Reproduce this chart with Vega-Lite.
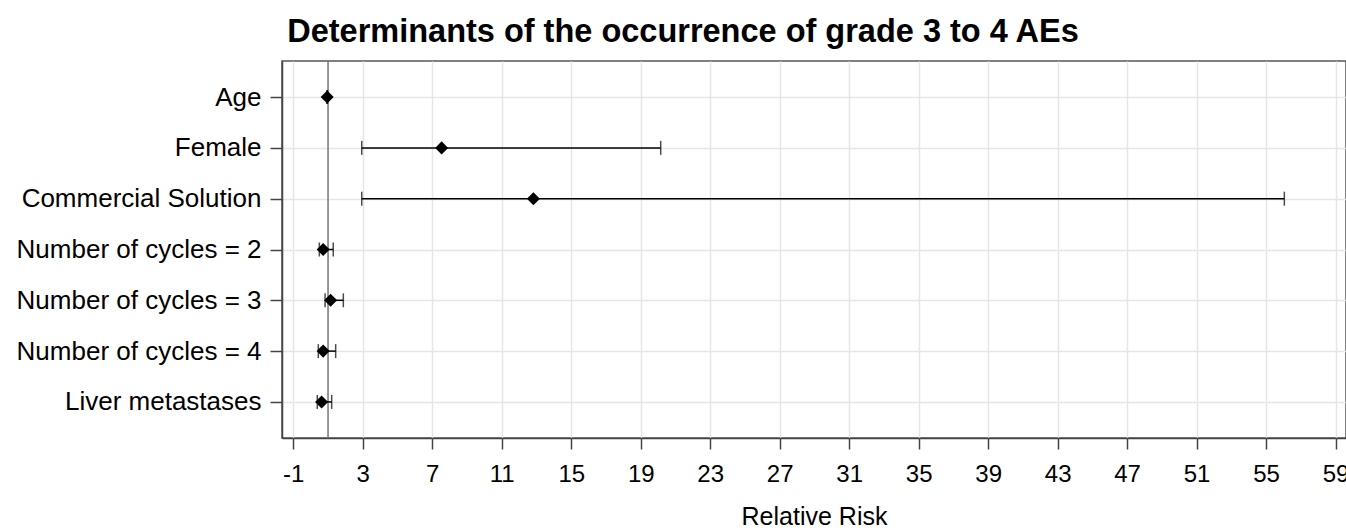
{
  "$schema": "https://vega.github.io/schema/vega-lite/v6.json",
  "autosize": {"type": "none"},
  "padding": {"left": 282, "top": 61, "right": 0, "bottom": 94},
  "width": 1064,
  "height": 377,
  "background": "white",
  "title": {
    "text": "Determinants of the occurrence of grade 3 to 4 AEs",
    "font": "Liberation Sans",
    "fontSize": 32.5,
    "fontWeight": "bold",
    "color": "black",
    "anchor": "middle",
    "dx": -131,
    "dy": 31,
    "baseline": "alphabetic",
    "offset": 17
  },
  "config": {
    "font": "Liberation Sans",
    "view": {"stroke": "#555", "strokeWidth": 1.5}
  },
  "data": {
    "values": [
      {"variable": "Age", "rr": 0.95, "lower": 0.93, "upper": 0.97},
      {"variable": "Female", "rr": 7.54, "lower": 2.94, "upper": 20.15},
      {"variable": "Commercial Solution", "rr": 12.82, "lower": 2.94, "upper": 56.05},
      {"variable": "Number of cycles = 2", "rr": 0.72, "lower": 0.5, "upper": 1.3},
      {"variable": "Number of cycles = 3", "rr": 1.15, "lower": 0.83, "upper": 1.88},
      {"variable": "Number of cycles = 4", "rr": 0.72, "lower": 0.44, "upper": 1.44},
      {"variable": "Liver metastases", "rr": 0.63, "lower": 0.38, "upper": 1.21}
    ]
  },
  "layer": [
    {
      "data": {"values": [{"ref": 1}]},
      "mark": {"type": "rule", "color": "#777", "strokeWidth": 1.5},
      "encoding": {
        "x": {"field": "ref", "type": "quantitative"}
      }
    },
    {
      "mark": {"type": "rule", "color": "black", "strokeWidth": 1.5},
      "encoding": {
        "y": {"field": "variable", "type": "nominal", "sort": null},
        "x": {"field": "lower", "type": "quantitative"},
        "x2": {"field": "upper"}
      }
    },
    {
      "mark": {"type": "tick", "color": "black", "size": 14, "thickness": 1.5},
      "encoding": {
        "y": {"field": "variable", "type": "nominal", "sort": null},
        "x": {"field": "lower", "type": "quantitative"}
      }
    },
    {
      "mark": {"type": "tick", "color": "black", "size": 14, "thickness": 1.5},
      "encoding": {
        "y": {"field": "variable", "type": "nominal", "sort": null},
        "x": {"field": "upper", "type": "quantitative"}
      }
    },
    {
      "mark": {"type": "point", "shape": "diamond", "filled": true, "color": "black", "opacity": 1, "size": 170},
      "encoding": {
        "y": {
          "field": "variable",
          "type": "nominal",
          "sort": null,
          "scale": {"type": "point", "padding": 0.71},
          "axis": {
            "title": null,
            "grid": true,
            "gridColor": "#e6e6e6",
            "gridWidth": 1.5,
            "domainColor": "#444",
            "domainWidth": 1.5,
            "tickColor": "#444",
            "tickSize": 12,
            "tickWidth": 1.5,
            "labelFontSize": 26,
            "labelColor": "black",
            "labelPadding": 9,
            "labelLimit": 400
          }
        },
        "x": {
          "field": "rr",
          "type": "quantitative",
          "scale": {"domain": [-1.65, 59.6], "nice": false, "zero": false},
          "axis": {
            "title": "Relative Risk",
            "titleFontSize": 25,
            "titleFontWeight": "normal",
            "titleColor": "black",
            "titlePadding": 18,
            "values": [-1, 3, 7, 11, 15, 19, 23, 27, 31, 35, 39, 43, 47, 51, 55, 59],
            "labelExpr": "'' + datum.value",
            "grid": true,
            "gridColor": "#e6e6e6",
            "gridWidth": 1.5,
            "domainColor": "#444",
            "domainWidth": 1.5,
            "tickColor": "#444",
            "tickSize": 11,
            "tickWidth": 1.5,
            "labelFontSize": 24,
            "labelColor": "black",
            "labelPadding": 13,
            "labelFlush": false,
            "labelOverlap": false
          }
        }
      }
    }
  ]
}
